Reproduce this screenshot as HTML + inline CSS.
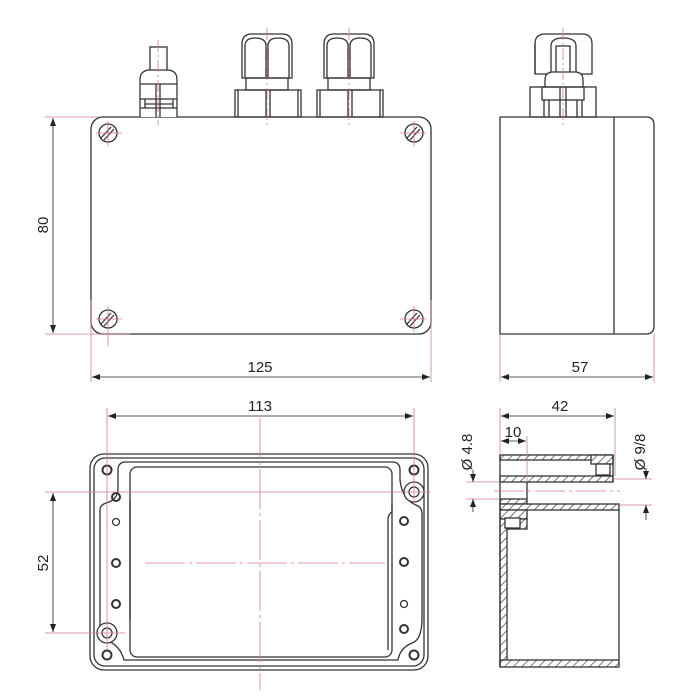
<!DOCTYPE html>
<html><head><meta charset="utf-8"><style>
html,body{margin:0;padding:0;background:#fff}
svg{display:block}
text{font-family:"Liberation Sans",sans-serif;font-size:15px;fill:#222}
</style></head><body>
<svg width="700" height="700" viewBox="0 0 700 700" xmlns="http://www.w3.org/2000/svg">
<defs>
<pattern id="h" width="6" height="6" patternUnits="userSpaceOnUse" patternTransform="rotate(45)">
<rect width="6" height="6" fill="#fff"/><line x1="0" y1="0" x2="0" y2="6" stroke="#333" stroke-width="1.3"/></pattern>
<marker id="a" markerWidth="8" markerHeight="6" refX="8" refY="3" orient="auto-start-reverse" markerUnits="userSpaceOnUse"><path d="M0,0 L8,3 L0,6z" fill="#222"/></marker>
</defs>
<g fill="none" stroke="#333" stroke-width="1.3">
<!-- TOP LEFT VIEW -->
<rect x="91" y="117" width="340" height="217" rx="12"/>
<g id="sc"><circle cx="108" cy="133" r="9"/><line x1="101" y1="138" x2="111" y2="127"/><line x1="104" y1="140" x2="114" y2="129"/></g>
<use href="#sc" x="306"/><use href="#sc" y="186"/><use href="#sc" x="306" y="186"/>
<!-- small gland -->
<rect x="150" y="47" width="17" height="24" fill="#fff"/>
<path d="M140,117 V80 Q140,70 150,70 H167 Q177,70 177,80 V117" fill="#fff"/>
<line x1="140" y1="84" x2="177" y2="84"/><line x1="140" y1="99" x2="177" y2="99"/>
<line x1="145" y1="104" x2="173" y2="104"/><line x1="140" y1="108" x2="177" y2="108"/>
<line x1="156" y1="84" x2="156" y2="117"/><line x1="160" y1="84" x2="160" y2="117"/>
<line x1="145" y1="99" x2="145" y2="108"/><line x1="173" y1="99" x2="173" y2="108"/>
<!-- big glands -->
<g id="bg">
<path d="M242,78 V44 Q242,34 252,34 H282 Q292,34 292,44 V78 Z"/>
<path d="M245,78 V46 Q245,38 255,38 Q266,38 266,46 V78 M268,78 V46 Q268,38 278,38 Q289,38 289,46 V78"/>
<rect x="246" y="78" width="42" height="12"/>
<rect x="235" y="90" width="66" height="27"/>
<line x1="238" y1="90" x2="238" y2="117"/><line x1="298" y1="90" x2="298" y2="117"/>
<line x1="266" y1="90" x2="266" y2="117"/><line x1="270" y1="90" x2="270" y2="117"/>
</g>
<use href="#bg" x="82"/>
<!-- TOP RIGHT VIEW -->
<path d="M500,117 H646 Q654,117 654,125 V326 Q654,334 646,334 H500 Z"/>
<line x1="614" y1="117" x2="614" y2="334"/>
<path d="M535,74 V44 Q535,34 545,34 H582 Q592,34 592,44 V74 Z"/>
<path d="M535,74 V44 M551,74 V46 Q551,38 563,38 Q576,38 576,46 V74"/>
<rect x="556" y="46" width="14" height="28"/>
<path d="M545,87 V80 Q545,72 553,72 H575 Q583,72 583,80 V87" fill="#fff"/>
<rect x="530" y="87" width="66" height="30"/>
<rect x="542" y="87" width="42" height="13"/>
<line x1="544" y1="100" x2="544" y2="117"/><line x1="582" y1="100" x2="582" y2="117"/>
<line x1="549" y1="100" x2="549" y2="117"/><line x1="577" y1="100" x2="577" y2="117"/>
<line x1="560" y1="87" x2="560" y2="117"/><line x1="566" y1="87" x2="566" y2="117"/>
<!-- BOTTOM LEFT VIEW -->
<rect x="90" y="454" width="338" height="216" rx="14"/>
<rect x="94" y="458" width="330" height="208" rx="11"/>
<path d="M126,462 H392 Q400,462 400,470 V480 Q402,500 418,506 Q422,508 422,514 V618 Q422,640 412,643 Q400,648 398,660 H124 Q120,645 106,640 Q100,636 100,628 V510 Q100,505 106,503 Q118,500 118,488 V470 Q118,462 126,462 Z"/>
<rect x="130" y="467" width="262" height="190" rx="7"/>
<line x1="130" y1="500" x2="130" y2="620"/>
<path d="M392,505 V512 Q388,514 388,520 V650"/>
<g stroke-width="2">
<circle cx="116" cy="497" r="4"/><circle cx="116" cy="563" r="4"/><circle cx="116" cy="604" r="4"/>
<circle cx="404" cy="521" r="4"/><circle cx="404" cy="562" r="4"/><circle cx="404" cy="629" r="4"/>
<circle cx="107" cy="470" r="4.5"/><circle cx="414" cy="470" r="4.5"/><circle cx="107" cy="655" r="4.5"/><circle cx="414" cy="655" r="4.5"/>
</g>
<circle cx="116" cy="522" r="3.5"/><circle cx="404" cy="604" r="3.5"/>
<circle cx="414" cy="492" r="10" fill="#fff"/><circle cx="414" cy="492" r="5"/>
<circle cx="107" cy="633" r="10" fill="#fff"/><circle cx="107" cy="633" r="5"/>
<!-- BOTTOM RIGHT SECTION -->
<rect x="500" y="455" width="113" height="5" fill="url(#h)"/>
<rect x="591" y="455" width="22" height="9" fill="url(#h)"/>
<rect x="596" y="464" width="14" height="11" fill="#fff"/>
<rect x="500" y="476" width="113" height="6" fill="url(#h)"/>
<rect x="500" y="499" width="27" height="5" fill="url(#h)"/>
<rect x="500" y="504" width="119" height="6" fill="url(#h)"/>
<rect x="500" y="510" width="27" height="9" fill="url(#h)"/>
<rect x="500" y="519" width="7" height="147" fill="url(#h)"/>
<rect x="500" y="660" width="119" height="7" fill="url(#h)"/>
<rect x="507" y="519" width="20" height="10" fill="url(#h)"/>
<rect x="505" y="518" width="15" height="10" fill="#fff"/>
<line x1="619" y1="510" x2="619" y2="660"/>
<line x1="500" y1="455" x2="500" y2="667"/>
<line x1="527" y1="482" x2="527" y2="499"/>
<line x1="613" y1="455" x2="613" y2="482"/>
</g>
<!-- centre lines & extension lines -->
<g fill="none" stroke="#d07a90" stroke-width="0.8">
<line x1="158" y1="40" x2="158" y2="125" stroke-dasharray="12 3 2 3"/>
<line x1="267" y1="28" x2="267" y2="125" stroke-dasharray="12 3 2 3"/>
<line x1="349" y1="28" x2="349" y2="125" stroke-dasharray="12 3 2 3"/>
<line x1="563" y1="28" x2="563" y2="125" stroke-dasharray="12 3 2 3"/>
<line x1="45" y1="117" x2="100" y2="117"/><line x1="45" y1="334" x2="130" y2="334"/>
<line x1="91" y1="300" x2="91" y2="382"/><line x1="431" y1="300" x2="431" y2="382"/>
<line x1="500" y1="334" x2="500" y2="382"/><line x1="654" y1="334" x2="654" y2="382"/>
<line x1="96" y1="133" x2="122" y2="133"/><line x1="108" y1="121" x2="108" y2="146"/>
<line x1="400" y1="133" x2="426" y2="133"/><line x1="414" y1="121" x2="414" y2="146"/>
<line x1="96" y1="319" x2="122" y2="319"/><line x1="108" y1="306" x2="108" y2="346"/>
<line x1="400" y1="319" x2="426" y2="319"/><line x1="414" y1="306" x2="414" y2="332"/>
<line x1="107" y1="408" x2="107" y2="650"/><line x1="414" y1="408" x2="414" y2="505"/>
<line x1="45" y1="492" x2="430" y2="492"/><line x1="45" y1="633" x2="125" y2="633"/>
<line x1="260" y1="418" x2="260" y2="690" stroke-dasharray="40 4 3 4"/>
<line x1="145" y1="563" x2="385" y2="563" stroke-dasharray="40 4 3 4"/>
<line x1="500" y1="408" x2="500" y2="455"/><line x1="615" y1="408" x2="615" y2="476"/>
<line x1="527" y1="436" x2="527" y2="482"/>
<line x1="466" y1="482" x2="500" y2="482"/><line x1="466" y1="499" x2="500" y2="499"/>
<line x1="494" y1="491" x2="620" y2="491" stroke-dasharray="30 4 3 4"/>
<line x1="613" y1="479" x2="652" y2="479"/><line x1="619" y1="505" x2="652" y2="505"/>
</g>
<!-- dimension lines -->
<g stroke="#222" stroke-width="0.8" fill="none">
<line x1="53" y1="118" x2="53" y2="333" marker-start="url(#a)" marker-end="url(#a)"/>
<line x1="92" y1="377" x2="430" y2="377" marker-start="url(#a)" marker-end="url(#a)"/>
<line x1="501" y1="377" x2="653" y2="377" marker-start="url(#a)" marker-end="url(#a)"/>
<line x1="108" y1="416" x2="413" y2="416" marker-start="url(#a)" marker-end="url(#a)"/>
<line x1="53" y1="493" x2="53" y2="632" marker-start="url(#a)" marker-end="url(#a)"/>
<line x1="501" y1="416" x2="614" y2="416" marker-start="url(#a)" marker-end="url(#a)"/>
<line x1="501" y1="441" x2="526" y2="441" marker-start="url(#a)" marker-end="url(#a)"/>
<line x1="473" y1="470" x2="473" y2="482" marker-end="url(#a)"/>
<line x1="473" y1="512" x2="473" y2="499" marker-end="url(#a)"/>
<line x1="646" y1="468" x2="646" y2="479" marker-end="url(#a)"/>
<line x1="646" y1="520" x2="646" y2="505" marker-end="url(#a)"/>
</g>
<text x="260" y="372" text-anchor="middle">125</text>
<text x="580" y="372" text-anchor="middle">57</text>
<text x="260" y="411" text-anchor="middle">113</text>
<text x="560" y="411" text-anchor="middle">42</text>
<text x="513" y="437" text-anchor="middle" font-size="14">10</text>
<text transform="translate(48,225) rotate(-90)" text-anchor="middle">80</text>
<text transform="translate(48,563) rotate(-90)" text-anchor="middle">52</text>
<text transform="translate(472,452) rotate(-90)" text-anchor="middle" font-size="14">Ø 4.8</text>
<text transform="translate(645,452) rotate(-90)" text-anchor="middle" font-size="14">Ø 9/8</text>
</svg>
</body></html>
